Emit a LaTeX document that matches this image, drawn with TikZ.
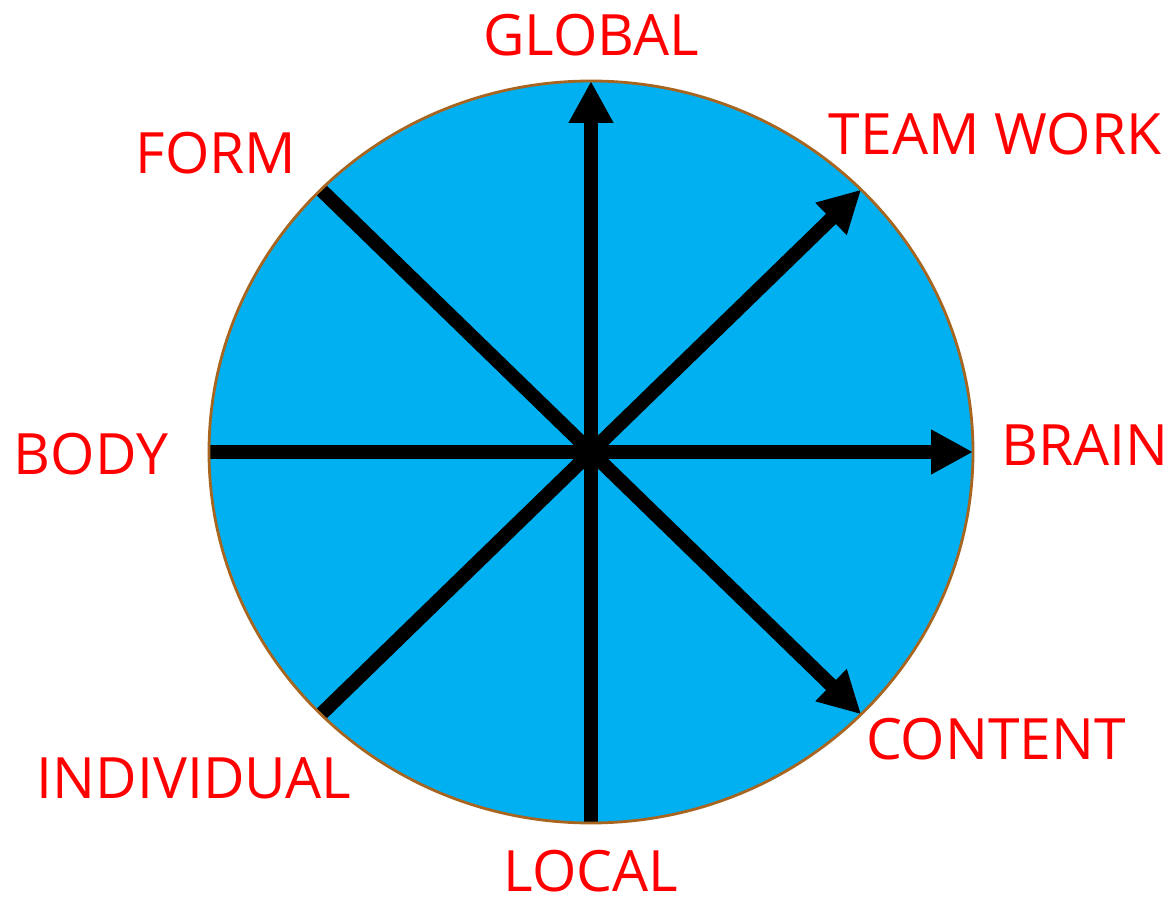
\documentclass[tikz,border=0pt]{standalone}
\usepackage{fontspec}
\setmainfont{Open Sans}
\usetikzlibrary{arrows.meta}
\definecolor{wheel}{HTML}{00B0F0}
\definecolor{rim}{HTML}{A8651F}

\begin{document}
\begin{tikzpicture}[x=1pt,y=1pt,
    spoke/.style={line width=14pt},
    tip/.style={-{Triangle[length=42pt,width=42pt]}},
    lbl/.style={text=red,inner sep=0pt,font=\fontsize{57}{60}\selectfont}]

  \useasboundingbox (0,0) rectangle (1173,902);

  % the wheel
  \coordinate (O) at (591,450);
  \fill[wheel] (O) ellipse [x radius=382, y radius=371];

  % end points on the rim
  \foreach \a/\n in {0/e,45/ne,90/n,135/nw,180/w,225/sw,270/s,315/se}
    \coordinate (\n) at ([shift={(\a:382 and 371)}]O);

  \draw[spoke,tip] (s) -- (n);
  \draw[spoke,tip] (w) -- (e);
  \draw[spoke,tip] (sw) -- (ne);
  \draw[spoke,tip] (nw) -- (se);

  \draw[rim,line width=2.8pt] (O) ellipse [x radius=382, y radius=371];

  % labels
  \node[lbl] (global) at (591,867) {GLOBAL};
  \node[lbl] (teamwork) at (995,768) {TEAM WORK};
  \node[lbl] (brain) at (1085,457) {BRAIN};
  \node[lbl] (content) at (996,163) {CONTENT};
  \node[lbl] (local) at (591,31) {LOCAL};
  \node[lbl] (individual) at (194,124) {INDIVIDUAL};
  \node[lbl] (body) at (91,448) {BODY};
  \node[lbl] (form) at (216,749) {FORM};

\end{tikzpicture}
\end{document}
